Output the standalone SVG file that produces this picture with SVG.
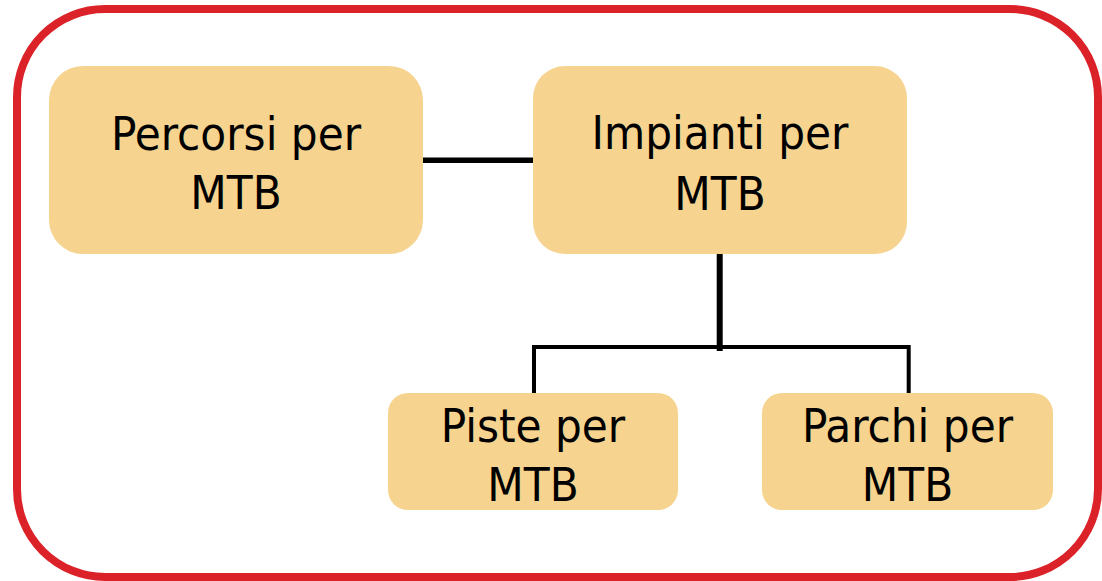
<svg xmlns="http://www.w3.org/2000/svg" width="1102" height="581" viewBox="0 0 1102 581">
  <style>
    .frame { fill: none; stroke: #DC2229; stroke-width: 8; }
    .node rect { fill: #F6D48F; stroke: none; }
    .node text { font-family: "DejaVu Sans Condensed", "DejaVu Sans", sans-serif; font-stretch: condensed; font-size: 47px; fill: #000; text-anchor: middle; }
    .conn { stroke: #000; fill: none; stroke-linecap: butt; }
  </style>
  <rect width="1102" height="581" fill="#fff"/>
  <rect class="frame" x="17" y="9" width="1081" height="568" rx="88" ry="88"/>
  <g id="connectors">
    <line class="conn" x1="423" y1="160.3" x2="533" y2="160.3" stroke-width="5.5"/>
    <line class="conn" x1="719.7" y1="254" x2="719.7" y2="351" stroke-width="6"/>
    <polyline class="conn" points="534,394 534,347 908.7,347 908.7,393" stroke-width="4"/>
  </g>
  <g id="node-percorsi" class="node">
    <rect x="49" y="66" width="374" height="188" rx="34" ry="34"/>
    <text x="236" y="150">Percorsi per</text>
    <text x="236" y="209">MTB</text>
  </g>
  <g id="node-impianti" class="node">
    <rect x="533" y="66" width="374" height="188" rx="32" ry="32"/>
    <text x="720" y="149">Impianti per</text>
    <text x="720" y="210">MTB</text>
  </g>
  <g id="node-piste" class="node">
    <rect x="388" y="393" width="290" height="117" rx="20" ry="20"/>
    <text x="533" y="442">Piste per</text>
    <text x="533" y="501">MTB</text>
  </g>
  <g id="node-parchi" class="node">
    <rect x="762" y="393" width="291" height="117" rx="20" ry="20"/>
    <text x="907.5" y="442">Parchi per</text>
    <text x="907.5" y="501">MTB</text>
  </g>
</svg>
